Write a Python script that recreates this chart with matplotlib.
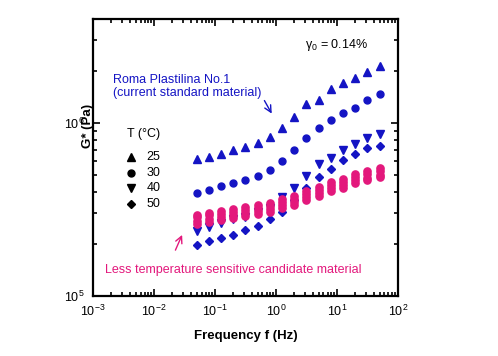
import numpy as np
import matplotlib
matplotlib.use("Agg")
import matplotlib.pyplot as plt
from matplotlib.ticker import LogLocator, NullFormatter

plt.rcParams['font.family'] = ['Liberation Sans', 'DejaVu Sans']
plt.rcParams['mathtext.fontset'] = 'custom'
plt.rcParams['mathtext.rm'] = 'Liberation Sans'

BLUE = "#1414c4"
PINK = "#e3187c"

# Frequenzen (Hz)
freq = [0.05, 0.079, 0.126, 0.2, 0.315, 0.5, 0.79, 1.26, 2.0, 3.15,
        5.0, 7.9, 12.6, 20.0, 31.5, 50.0]

# Roma Plastilina No.1, G* in Pa
g_25 = [6.21e5, 6.38e5, 6.64e5, 7.00e5, 7.28e5, 7.68e5, 8.31e5, 9.36e5,
        1.08e6, 1.29e6, 1.36e6, 1.57e6, 1.70e6, 1.82e6, 1.96e6, 2.13e6]
g_30 = [3.91e5, 4.12e5, 4.29e5, 4.52e5, 4.70e5, 4.96e5, 5.37e5, 6.05e5,
        7.00e5, 8.20e5, 9.36e5, 1.04e6, 1.14e6, 1.22e6, 1.36e6, 1.47e6]
g_40 = [2.37e5, 2.50e5, 2.63e5, 2.77e5, 2.86e5, 3.04e5, 3.21e5, 3.71e5,
        4.23e5, 4.96e5, 5.81e5, 6.29e5, 7.00e5, 7.57e5, 8.20e5, 8.65e5]
g_50 = [1.96e5, 2.08e5, 2.17e5, 2.24e5, 2.40e5, 2.53e5, 2.77e5, 3.05e5,
        3.56e5, 4.23e5, 4.89e5, 5.44e5, 6.13e5, 6.64e5, 7.18e5, 7.38e5]

# Kandidatenmaterial (weniger temperaturabhaengig)
p_25 = [2.94e5, 3.03e5, 3.10e5, 3.19e5, 3.27e5, 3.35e5, 3.45e5, 3.63e5,
        3.79e5, 4.05e5, 4.27e5, 4.58e5, 4.77e5, 5.09e5, 5.30e5, 5.52e5]
p_30 = [2.84e5, 2.92e5, 2.99e5, 3.07e5, 3.15e5, 3.23e5, 3.33e5, 3.50e5,
        3.65e5, 3.90e5, 4.11e5, 4.40e5, 4.58e5, 4.90e5, 5.09e5, 5.30e5]
p_40 = [2.71e5, 2.78e5, 2.85e5, 2.93e5, 3.01e5, 3.09e5, 3.18e5, 3.34e5,
        3.48e5, 3.71e5, 3.91e5, 4.19e5, 4.35e5, 4.65e5, 4.83e5, 5.03e5]
p_50 = [2.61e5, 2.68e5, 2.75e5, 2.82e5, 2.90e5, 2.98e5, 3.06e5, 3.22e5,
        3.35e5, 3.57e5, 3.77e5, 4.04e5, 4.19e5, 4.48e5, 4.66e5, 4.85e5]

temps = ["25", "30", "40", "50"]
markers = ["^", "o", "v", "D"]
msizes = [5.5, 5, 5.5, 4.2]

fig = plt.figure(figsize=(4.98, 3.56), dpi=100)
ax = fig.add_axes([0.187, 0.169, 0.612, 0.778])

# blau zuerst, pink liegt drueber wie im Original
for ys, m, s in zip([g_25, g_30, g_40, g_50], markers, msizes):
    ax.plot(freq, ys, ls="none", marker=m, ms=s, color=BLUE, mec=BLUE)
# pink: die Symbole verschmelzen im Original zu ovalen Klecksen
for ys in [p_25, p_30, p_40, p_50]:
    ax.plot(freq, ys, ls="none", marker="o", ms=5.2, color=PINK, mec=PINK)

ax.set_xscale("log")
ax.set_yscale("log")
ax.set_xlim(1e-3, 1e2)
ax.set_ylim(1e5, 4e6)

ax.xaxis.set_major_locator(LogLocator(base=10, numticks=10))
ax.xaxis.set_minor_locator(LogLocator(base=10, subs=np.arange(2, 10), numticks=10))
ax.yaxis.set_major_locator(LogLocator(base=10, numticks=10))
ax.yaxis.set_minor_locator(LogLocator(base=10, subs=np.arange(2, 10), numticks=10))
ax.yaxis.set_minor_formatter(NullFormatter())

ax.tick_params(which="both", direction="in", top=True, right=True,
               labelsize=9, width=1.2, pad=6)
ax.tick_params(which="major", length=5)
ax.tick_params(which="minor", length=3)
for sp in ax.spines.values():
    sp.set_linewidth(1.6)

ax.set_xlabel("Frequency f (Hz)", fontsize=9.5, fontweight="bold", labelpad=8)
ax.set_ylabel("G* (Pa)", fontsize=9.5, fontweight="bold")
ax.yaxis.set_label_coords(0.003, 0.612)  # liegt im Original ueber der 10^6-Beschriftung

# Beschriftungen im Plot
ax.text(0.695, 0.895, r"$\mathregular{\gamma_0}$ = 0.14%", transform=ax.transAxes, fontsize=9)
ax.text(0.066, 0.80, "Roma Plastilina No.1\n(current standard material)",
        transform=ax.transAxes, fontsize=9, color=BLUE, va="top", linespacing=1.1)
ax.annotate("", xy=(0.586, 0.658), xytext=(0.562, 0.705), xycoords="axes fraction",
            arrowprops=dict(arrowstyle="->", color=BLUE, lw=1, mutation_scale=12,
                            shrinkA=0, shrinkB=0))

ax.text(0.11, 0.575, "T (°C)", transform=ax.transAxes, fontsize=9)
for i, (t, m, s) in enumerate(zip(temps, markers, msizes)):
    yy = 0.50 - i * 0.056
    ax.plot([0.125], [yy], transform=ax.transAxes, marker=m, ms=s, color="black", ls="none")
    ax.text(0.175, yy, t, transform=ax.transAxes, fontsize=9, va="center")

ax.annotate("", xy=(0.292, 0.22), xytext=(0.27, 0.165), xycoords="axes fraction",
            arrowprops=dict(arrowstyle="->", color=PINK, lw=1, mutation_scale=12,
                            shrinkA=0, shrinkB=0))
ax.text(0.04, 0.095, "Less temperature sensitive candidate material",
        transform=ax.transAxes, fontsize=9, color=PINK, va="center")

fig.savefig("out.png", dpi=100)
